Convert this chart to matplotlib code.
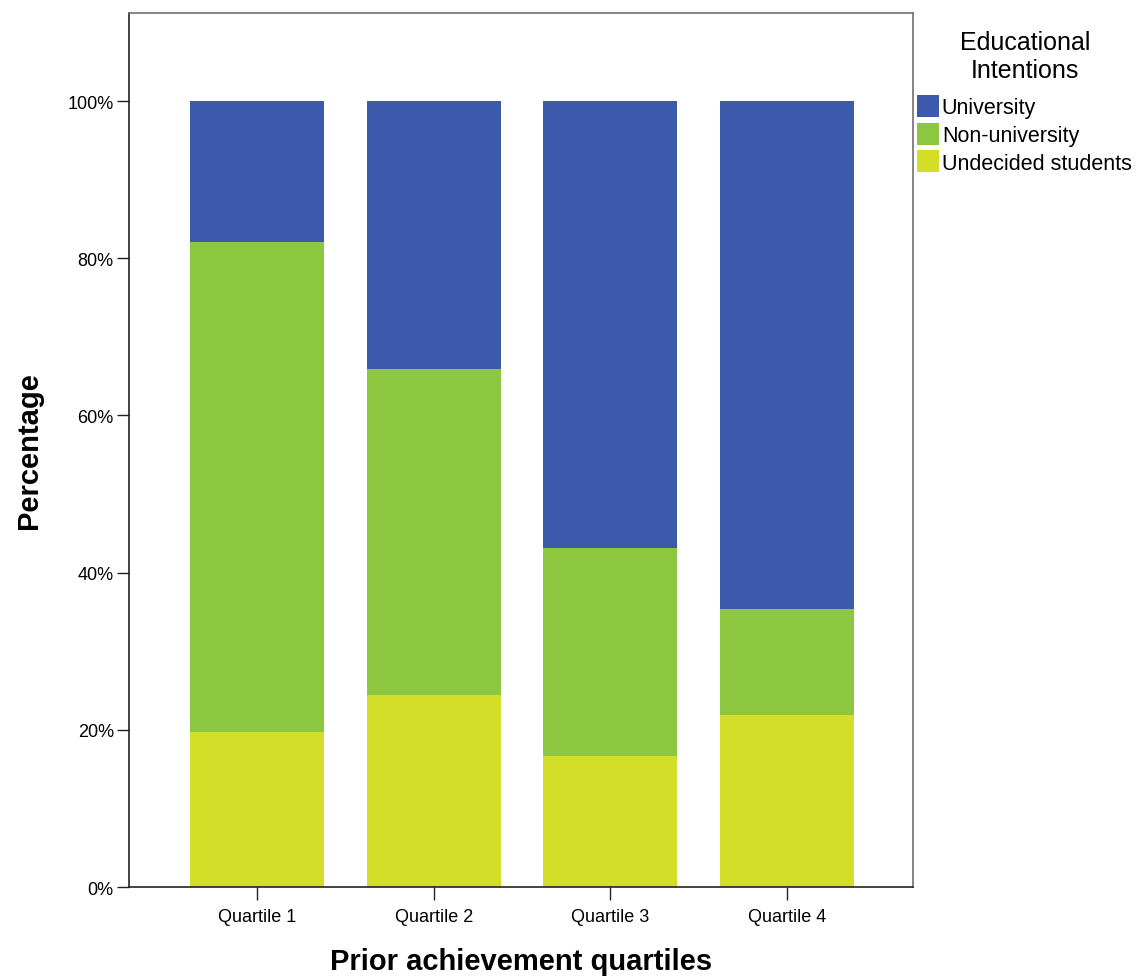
import matplotlib.pyplot as plt
import numpy as np
from matplotlib.ticker import FuncFormatter

plt.rcParams['font.family'] = ['Liberation Sans', 'DejaVu Sans']

quartiles = ['Quartile 1', 'Quartile 2', 'Quartile 3', 'Quartile 4']
undecided = [19.7, 24.4, 16.7, 21.9]
non_university = [62.4, 41.5, 26.4, 13.5]
university = [17.9, 34.1, 56.9, 64.6]

series_names = ['University', 'Non-university', 'Undecided students']
colors = {'University': '#3d59ab', 'Non-university': '#8dc63f',
          'Undecided students': '#d4dd27'}

fig = plt.figure(figsize=(11.41, 9.78), dpi=100)
ax = fig.add_axes([0.1131, 0.092, 0.8002 - 0.1131, 0.9857 - 0.092])

x = np.arange(len(quartiles))
w = 0.76
bottom = np.zeros(len(quartiles))
handles = {}
for name, vals in [('Undecided students', undecided),
                   ('Non-university', non_university),
                   ('University', university)]:
    handles[name] = ax.bar(x, vals, width=w, bottom=bottom, color=colors[name],
                           linewidth=0, label=name)
    bottom += np.array(vals)

ax.set_xlim(-0.724, 3.713)
ax.set_ylim(0, 111.2)
ax.set_yticks([0, 20, 40, 60, 80, 100])
ax.yaxis.set_major_formatter(FuncFormatter(lambda v, p: '%d%%' % v))
ax.set_xticks(x)
ax.set_xticklabels(quartiles)
ax.tick_params(axis='both', length=9, width=1, labelsize=13, color='#222222')
ax.tick_params(axis='y', pad=2)
ax.tick_params(axis='x', pad=6)

for s in ['left', 'bottom']:
    ax.spines[s].set_color('#222222')
    ax.spines[s].set_linewidth(1.2)
for s in ['top', 'right']:
    ax.spines[s].set_color('#707070')
    ax.spines[s].set_linewidth(1.2)

ax.set_ylabel('Percentage', fontsize=21, fontweight='bold', labelpad=18)
ax.set_xlabel('Prior achievement quartiles', fontsize=21, fontweight='bold',
              labelpad=16)

# legend title drawn on its own so it can be centred with a gap under it
fig.text(1025 / 1141, 1 - 57 / 978, 'Educational\nIntentions', fontsize=18,
         ha='center', va='center', multialignment='center', linespacing=1.2)

leg = fig.legend([handles[n] for n in series_names], series_names,
                 loc='upper left', bbox_to_anchor=(917 / 1141, 1 - 96 / 978),
                 bbox_transform=fig.transFigure, frameon=False,
                 fontsize=15.5, borderpad=0, handlelength=1.0,
                 handleheight=1.2, handletextpad=0.15, labelspacing=0.2,
                 borderaxespad=0)

fig.savefig('out.png', dpi=100)
